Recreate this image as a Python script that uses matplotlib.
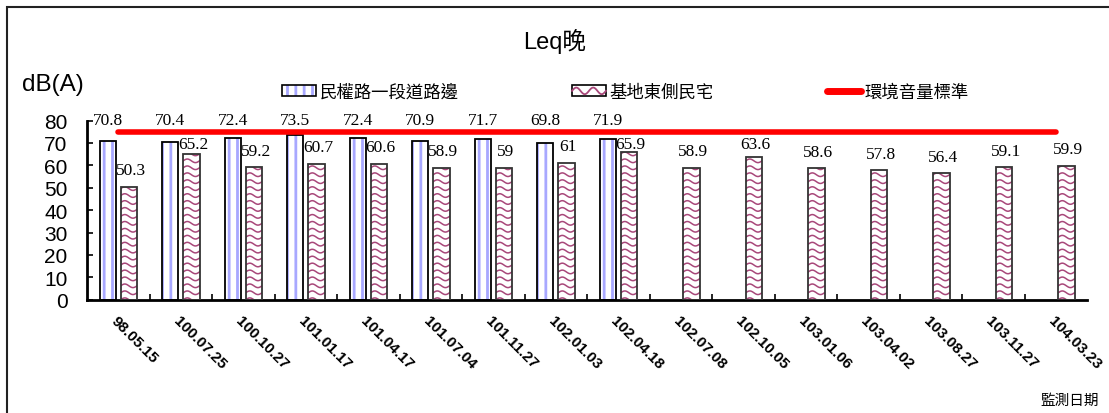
import matplotlib
matplotlib.use("Agg")
import matplotlib.pyplot as plt
import numpy as np
from matplotlib.lines import Line2D
from matplotlib.patches import Patch, Rectangle
from matplotlib.legend_handler import HandlerBase

# data
dates = ["98.05.15", "100.07.25", "100.10.27", "101.01.17", "101.04.17",
         "101.07.04", "101.11.27", "102.01.03", "102.04.18", "102.07.08",
         "102.10.05", "103.01.06", "103.04.02", "103.08.27", "103.11.27",
         "104.03.23"]
road = [70.8, 70.4, 72.4, 73.5, 72.4, 70.9, 71.7, 69.8, 71.9]
resid = [50.3, 65.2, 59.2, 60.7, 60.6, 58.9, 59, 61, 65.9, 58.9, 63.6,
         58.6, 57.8, 56.4, 59.1, 59.9]
standard = 75

series_names = ["民權路一段道路邊", "基地東側民宅", "環境音量標準"]
title = "Leq晚"
ylabel = "dB(A)"
xlabel = "監測日期"

CJK = ["Noto Sans CJK TC", "DejaVu Sans"]
WAVE = "#a8487a"
STRIPE = "#a8a8ff"

plt.rcParams["hatch.linewidth"] = 2.0

fig = plt.figure(figsize=(11.09, 4.14), dpi=100)
ax = fig.add_axes([87 / 1109, 1 - 300.7 / 414, 1000 / 1109, 179.2 / 414])

x = np.arange(len(dates))
w = 0.26
off = 0.17

# roadside bars: striped fill, then black outline
xr = x[:len(road)] - off
ax.bar(xr, road, w, color="white", edgecolor=STRIPE, hatch="||", lw=0, zorder=2)
ax.bar(xr, road, w, fill=False, edgecolor="black", lw=1.3, zorder=3)

# residence bars: wavy pattern clipped to each bar
xh = x + off
bars = ax.bar(xh, resid, w, color="white", edgecolor="#333333", lw=1.3, zorder=3)
for b in bars:
    b.set_facecolor("none")
    left = b.get_x()
    xs = np.linspace(left, left + w, 40)
    for y0 in np.arange(0, b.get_height() + 3, 3.1):
        ys = y0 + 0.8 * np.sin(2 * np.pi * (xs - left) / w)
        ln, = ax.plot(xs, ys, color=WAVE, lw=1.1, zorder=2)
        ln.set_clip_path(b)

# standard line
ax.plot([x[0], x[-1]], [standard, standard], color="red", lw=4, zorder=4,
        solid_capstyle="round")

# value labels
for xi, v in zip(xr, road):
    ax.text(xi, 80.2, f"{v:g}", ha="center", va="center",
            family="Liberation Serif", fontsize=12.5, zorder=5)
for xi, v in zip(xh, resid):
    ax.text(xi + 0.03, min(v + 7.4, 69.5), f"{v:g}", ha="center", va="center",
            family="Liberation Serif", fontsize=12.5, zorder=5)

ax.set_xlim(-0.5, len(dates) - 0.5)
ax.set_ylim(0, 80)
ax.set_yticks(np.arange(0, 81, 10))
ax.tick_params(axis="y", direction="in", length=4, width=1.2,
               labelsize=15, pad=14)
for t in ax.get_yticklabels():
    t.set_family("Liberation Sans")

ax.set_xticks(x)
ax.set_xticklabels(dates, rotation=-45, ha="left", rotation_mode="anchor",
                   fontsize=11, fontweight="bold", family="Liberation Sans")
ax.tick_params(axis="x", which="major", length=0, pad=10)
ax.set_xticks(x[:-1] + 0.5, minor=True)
ax.tick_params(axis="x", which="minor", direction="in", length=4, width=1.2)

for s in ["top", "right"]:
    ax.spines[s].set_visible(False)
for s in ["left", "bottom"]:
    ax.spines[s].set_linewidth(2)


class HandlerWave(HandlerBase):
    def create_artists(self, legend, orig_handle, xdescent, ydescent,
                       width, height, fontsize, trans):
        rect = Rectangle((-xdescent, -ydescent), width, height, fc="white",
                         ec="black", lw=1.2, transform=trans)
        xs = np.linspace(-xdescent, -xdescent + width, 60)
        ys = -ydescent + height / 2 + height * 0.3 * np.sin(
            2 * np.pi * (xs + xdescent) / (width / 2))
        ln = Line2D(xs, ys, color=WAVE, lw=1.3, transform=trans)
        return [rect, ln]


h_road = Patch(facecolor="white", edgecolor=STRIPE, hatch="||", lw=0)
h_road_edge = Patch(fill=False, edgecolor="black", lw=1.2)
h_res = Patch(facecolor="white", edgecolor="black")
h_std = Line2D([], [], color="red", lw=5, solid_capstyle="round")
leg = fig.legend([(h_road, h_road_edge), h_res, h_std], series_names,
                 handler_map={h_res: HandlerWave()},
                 loc="center left", bbox_to_anchor=(282 / 1109, 1 - 93 / 414),
                 ncol=3, frameon=False, prop={"family": CJK, "size": 12.5},
                 handlelength=1.95, handleheight=0.6, handletextpad=0.2,
                 columnspacing=6.55, borderpad=0, borderaxespad=0)

fig.text(555 / 1109, 1 - 41 / 414, title, ha="center", va="center",
         fontsize=17, family=["Liberation Sans", "Noto Sans CJK TC"])
fig.text(22 / 1109, 1 - 85 / 414, ylabel, ha="left", va="center",
         fontsize=17.5, family="Liberation Sans")
fig.text(1070 / 1109, 1 - 401 / 414, xlabel, ha="center", va="center",
         fontsize=10.5, family=CJK)

fig.add_artist(Rectangle((7 / 1109, -0.1), 1.2, 1 - 8 / 414 + 0.1,
                         transform=fig.transFigure, fill=False, lw=1.5,
                         ec="#222222", clip_on=False))

fig.savefig("out.png", dpi=100)
